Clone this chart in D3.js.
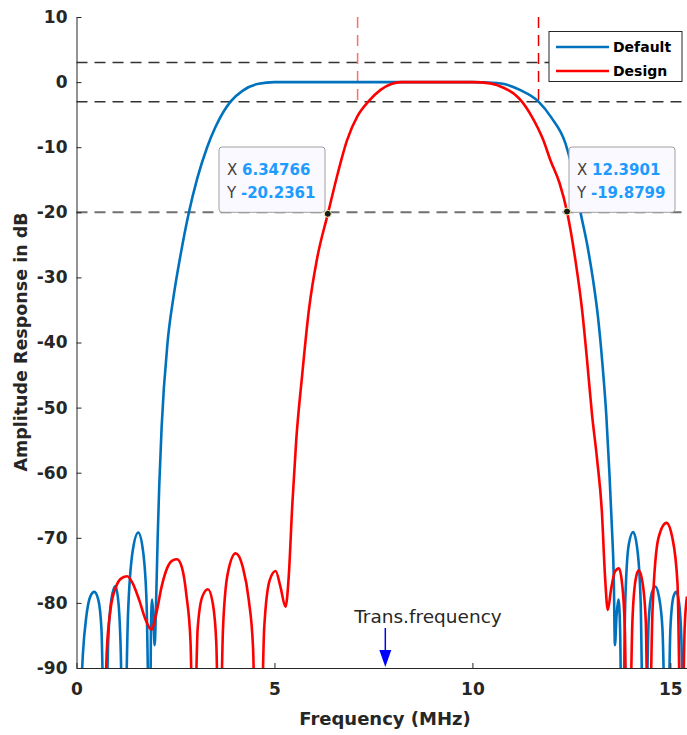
<!DOCTYPE html>
<html lang="en">
<head>
<meta charset="UTF-8">
<title>Amplitude Response</title>
<script src="https://d3js.org/d3.v7.min.js"></script>
<style>
body { margin: 0; background: #fff; font-family: "DejaVu Sans", sans-serif; }
.axis text { font: bold 17px "DejaVu Sans", sans-serif; fill: #262626; }
.axis line, .axis path { stroke: #262626; stroke-width: 1px; }
</style>
</head>
<body>
<script>
// frequency (MHz) / amplitude (dB)
var defaultFreq = [0.08, 0.16, 0.25, 0.35, 0.45, 0.55, 0.63, 0.70,
  0.74, 0.80, 0.88, 0.98, 1.06, 1.12, 1.16,
  1.22, 1.30, 1.42, 1.56, 1.68, 1.77, 1.84,
  1.86, 1.88, 1.91, 1.94, 1.975, 2.01, 2.05, 2.09, 2.15, 2.30, 2.45, 2.63, 2.84, 3.05, 3.30, 3.51, 3.89, 4.20, 4.60, 5.00,
  6, 7, 8, 9, 10, 10.5, 10.87, 11.2, 11.67, 12.0, 12.35, 12.55, 12.73, 12.9, 13.05, 13.17, 13.28, 13.38, 13.46, 13.52, 13.57, 13.60, 13.64, 13.69, 13.73, 13.77,
  13.80, 13.86, 13.95, 14.06, 14.17, 14.25, 14.31,
  14.38, 14.45, 14.53, 14.62, 14.71, 14.80, 14.88,
  14.94, 15.00, 15.08, 15.15, 15.22, 15.28, 15.33, 15.42];
var defaultDb = [-100, -88, -82, -79, -78.3, -79.5, -84, -100,
  -100, -86, -79.5, -77.4, -80, -88, -100,
  -100, -82, -72, -69.2, -72, -80, -100,
  -100, -84, -79.5, -82, -86.5, -80, -70, -62, -53, -40, -33, -26.5, -20, -14.8, -10, -6.9, -3, -1.3, -0.25, 0,
  0, 0, 0, 0, 0, -0.1, -0.4, -1.2, -3, -5.5, -9.4, -14, -20, -25, -30.5, -36, -43, -51, -60, -68, -76, -86.5, -82, -79.5, -84, -100,
  -100, -80, -71, -69.1, -72, -80, -100,
  -100, -83, -78.5, -77.5, -79, -84, -100,
  -100, -84, -79, -78.3, -80, -86, -100, -92];

var designFreq = [0.70, 0.76, 0.86, 1.00, 1.14, 1.28, 1.42, 1.58, 1.74, 1.89, 2.02, 2.15, 2.30, 2.42, 2.54, 2.66, 2.78, 2.88, 2.94,
  2.98, 3.06, 3.18, 3.32, 3.44, 3.53, 3.59,
  3.63, 3.70, 3.82, 4.02, 4.20, 4.35, 4.46, 4.52,
  4.66, 4.74, 4.88, 5.03, 5.15, 5.28, 5.36, 5.45, 5.55, 5.70, 5.87, 6.08, 6.35, 6.60, 6.83, 7.10, 7.37, 7.68, 7.95, 8.20,
  9, 10, 10.45, 10.8, 11.05, 11.25, 11.5, 11.79, 11.97, 12.2, 12.39, 12.6, 12.77, 12.9, 13.02, 13.15, 13.27, 13.35, 13.42,
  13.50, 13.60, 13.70, 13.78, 13.85, 13.90,
  13.97, 14.04, 14.12, 14.20, 14.30, 14.38, 14.43,
  14.47, 14.55, 14.70, 14.90, 15.05, 15.18, 15.26,
  15.30, 15.36, 15.42];
var designDb = [-100, -88, -81, -77.5, -76.2, -75.9, -77, -79.5, -82.5, -84.1, -81.5, -77.5, -74.5, -73.5, -73.3, -74.5, -79, -86, -100,
  -100, -84, -79, -77.9, -80, -86, -100,
  -100, -84, -75.5, -72.4, -74.5, -79.5, -87, -100,
  -100, -84, -76.5, -75.1, -77.5, -80.6, -76, -65, -55, -45, -35, -27, -20.2, -14, -9, -5.2, -3, -1.2, -0.3, 0,
  0, 0, -0.2, -0.9, -1.8, -3, -5.3, -8.9, -12, -15.5, -19.9, -27.3, -35, -43, -51, -58, -66, -76, -81.1,
  -78, -75.2, -74.7, -77, -84, -100,
  -100, -83, -76.5, -75, -77, -83, -100,
  -100, -81, -70, -67.7, -70, -77, -100,
  -100, -84, -79];

var seriesNames = ["Default", "Design"];
var seriesColors = ["#0072BD", "#FF0000"];

var xTicks = [0, 5, 10, 15];
var yTicks = [10, 0, -10, -20, -30, -40, -50, -60, -70, -80, -90];

var refLevels = [3, -3, -20];        // horizontal dashed lines (dB)
var markerFreqs = [7.1, 11.67];      // vertical red dashed lines (MHz)

var tips = [
  { x: 6.34766, y: -20.2361, xs: "6.34766", ys: "-20.2361", side: "left" },
  { x: 12.3901, y: -19.8799, xs: "12.3901", ys: "-19.8799", side: "right" }
];

var transFreq = 7.8;

var W = 687, H = 735;
var svg = d3.select("body").append("svg").attr("width", W).attr("height", H);

var x = d3.scaleLinear().domain([0, 15.42]).range([76.5, 687]);
var y = d3.scaleLinear().domain([-90, 10]).range([668, 17]);

svg.append("clipPath").attr("id", "plot")
  .append("rect").attr("x", x(0)).attr("y", y(10)).attr("width", 687 - x(0)).attr("height", y(-90) - y(10));

// reference lines
svg.selectAll(".ref").data(refLevels).enter().append("line")
  .attr("x1", x(0)).attr("x2", 687)
  .attr("y1", function(d) { return y(d); }).attr("y2", function(d) { return y(d); })
  .attr("stroke", function(d) { return d === -20 ? "#707070" : "#333"; })
  .attr("stroke-width", function(d) { return d === -20 ? 2 : 1.5; })
  .attr("stroke-dasharray", "11,7");

svg.selectAll(".vmark").data(markerFreqs).enter().append("line")
  .attr("x1", function(d) { return x(d); }).attr("x2", function(d) { return x(d); })
  .attr("y1", y(10)).attr("y2", y(-3.6))
  .attr("stroke", function(d, i) { return i === 0 ? "#ff6e6e" : "#e00000"; })
  .attr("stroke-width", 1.5)
  .attr("stroke-dasharray", "11,7");

// curves
var line = d3.line()
  .x(function(d) { return x(d[0]); })
  .y(function(d) { return y(d[1]); })
  .curve(d3.curveMonotoneX);

var series = [d3.zip(defaultFreq, defaultDb), d3.zip(designFreq, designDb)];
svg.append("g").attr("clip-path", "url(#plot)")
  .selectAll("path").data(series).enter().append("path")
  .attr("d", line)
  .attr("fill", "none")
  .attr("stroke", function(d, i) { return seriesColors[i]; })
  .attr("stroke-width", 2.6)
  .attr("stroke-linejoin", "round");

// axes (MATLAB style: ticks inside)
var fmt = function(d) { return String(d); };
svg.append("g").attr("class", "axis").attr("transform", "translate(0," + y(-90) + ")")
  .call(d3.axisBottom(x).tickValues(xTicks).tickFormat(fmt).tickSize(-5).tickSizeOuter(0).tickPadding(15));
svg.append("g").attr("class", "axis").attr("transform", "translate(" + x(0) + ",0)")
  .call(d3.axisLeft(y).tickValues(yTicks).tickFormat(fmt).tickSize(-5).tickSizeOuter(0).tickPadding(9));

svg.append("text")
  .attr("x", 385).attr("y", 725)
  .attr("text-anchor", "middle")
  .style("font", "bold 18px 'DejaVu Sans', sans-serif")
  .attr("fill", "#262626")
  .text("Frequency (MHz)");

svg.append("text")
  .attr("transform", "translate(27," + 342 + ") rotate(-90)")
  .attr("text-anchor", "middle")
  .style("font", "bold 17.5px 'DejaVu Sans', sans-serif")
  .attr("fill", "#262626")
  .text("Amplitude Response in dB");

// transition frequency annotation
svg.append("text")
  .attr("x", 428).attr("y", 623)
  .attr("text-anchor", "middle")
  .style("font", "18.5px 'DejaVu Sans', sans-serif")
  .attr("fill", "#262626")
  .text("Trans.frequency");
svg.append("line")
  .attr("x1", x(transFreq)).attr("x2", x(transFreq))
  .attr("y1", 628).attr("y2", 655)
  .attr("stroke", "#0000ff").attr("stroke-width", 1.5);
svg.append("path")
  .attr("d", "M" + (x(transFreq) - 6) + ",650 L" + (x(transFreq) + 6) + ",650 L" + x(transFreq) + "," + (y(-90) - 1) + " Z")
  .attr("fill", "#0000ff");

// data tips
tips.forEach(function(t) {
  var px = x(t.x), py = y(t.y);
  var bx = t.side === "left" ? 219 : 569;
  var g = svg.append("g");
  g.append("rect")
    .attr("x", bx).attr("y", 147).attr("width", 106).attr("height", y(-20) - 147)
    .attr("rx", 3)
    .attr("fill", "#f9f9ff").attr("stroke", "#a0a0a0").attr("stroke-width", 1);
  [["X", t.xs, 175], ["Y", t.ys, 198]].forEach(function(r) {
    var tx = g.append("text").attr("x", bx + 8).attr("y", r[2])
      .style("font", "15px 'DejaVu Sans', sans-serif");
    tx.append("tspan").attr("fill", "#404040").text(r[0] + " ");
    tx.append("tspan").attr("fill", "#1e9bff").style("font-weight", "bold").text(r[1]);
  });
  svg.append("circle").attr("cx", px).attr("cy", py).attr("r", 3.5)
    .attr("fill", "#1a1a1a").attr("stroke", "#f4f0b0").attr("stroke-width", 1);
});

// legend
var lg = svg.append("g");
lg.append("rect").attr("x", 549).attr("y", 31.5).attr("width", 133).attr("height", 50)
  .attr("fill", "#fff").attr("stroke", "#262626").attr("stroke-width", 1);
seriesNames.forEach(function(name, i) {
  var ly = 47 + i * 24;
  lg.append("line").attr("x1", 556).attr("x2", 609).attr("y1", ly).attr("y2", ly)
    .attr("stroke", seriesColors[i]).attr("stroke-width", 2.6);
  lg.append("text").attr("x", 613).attr("y", ly + 5)
    .style("font", "bold 14px 'DejaVu Sans', sans-serif")
    .attr("fill", "#000").text(name);
});
</script>
</body>
</html>
